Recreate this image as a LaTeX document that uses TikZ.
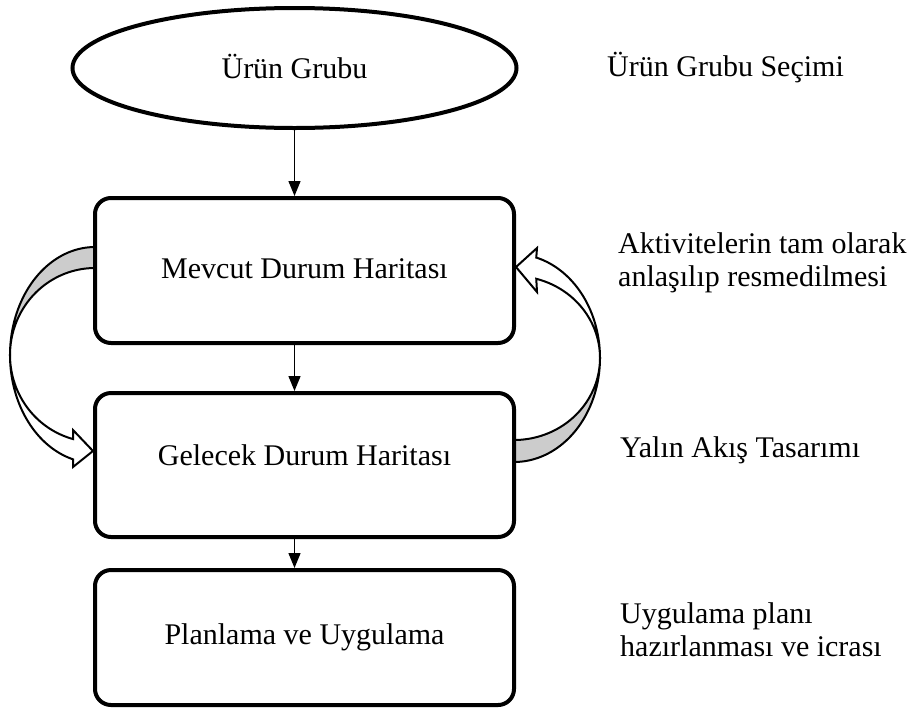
\documentclass[tikz,border=0pt]{standalone}
\usepackage{fontspec}
\setmainfont{Liberation Serif}
\usetikzlibrary{shapes.geometric,arrows.meta}
\begin{document}
\begin{tikzpicture}[x=1pt,y=-1pt,
  stagebox/.style={draw,line width=4pt,rounded corners=16pt,fill=white,
    minimum width=419pt,inner sep=0pt,font=\fontsize{30}{33}\selectfont},
  startell/.style={draw,ellipse,line width=4pt,fill=white,
    minimum width=444pt,minimum height=120pt,inner sep=0pt,
    font=\fontsize{30}{33}\selectfont},
  flow/.style={line width=1.4pt,-{Triangle[length=15pt,width=12pt]}},
  note/.style={anchor=north west,align=left,inner sep=0pt,
    font=\fontsize{30}{33}\selectfont},
  ribbon/.style={draw,line width=2pt,line join=miter,fill=white},
  ribbonback/.style={draw,line width=2pt,fill=gray!40}]
\useasboundingbox (0,0) rectangle (909,713);

% curved block arrow on the left: from the current map down to the future map
\draw[ribbonback] plot[domain=270:180,samples=40] ({95+85*cos(\x)},{355+108*sin(\x)})
  -- plot[domain=180:270,samples=40] ({95+85*cos(\x)},{355+87*sin(\x)}) -- cycle;
\draw[ribbon] plot[domain=180:105,samples=40] ({95+85*cos(\x)},{355+108*sin(\x)})
  -- (73,467) -- (93,451) -- (73,430)
  -- plot[domain=105:180,samples=40] ({95+85*cos(\x)},{355+87*sin(\x)}) -- cycle;

% curved block arrow on the right: from the future map back up to the current map
\draw[ribbonback] plot[domain=90:0,samples=40] ({514+86*cos(\x)},{358+104*sin(\x)})
  -- plot[domain=0:90,samples=40] ({514+86*cos(\x)},{358+82*sin(\x)}) -- cycle;
\draw[ribbon] plot[domain=0:-75,samples=40] ({514+86*cos(\x)},{358+104*sin(\x)})
  -- (537,248) -- (516,267) -- (537,292)
  -- plot[domain=-75:0,samples=40] ({514+86*cos(\x)},{358+82*sin(\x)}) -- cycle;

% main chain
\node[startell] (grp) at (294.5,68) {\raisebox{3pt}{Ürün Grubu}};
\node[stagebox,minimum height=145pt] (cur) at (304.5,270.5) {\raisebox{3pt}{Mevcut Durum Haritası}};
\node[stagebox,minimum height=144pt] (fut) at (304.5,465) {\raisebox{20pt}{Gelecek Durum Haritası}};
\node[stagebox,minimum height=135pt] (plan) at (304.5,637.5) {\raisebox{-12pt}{Planlama ve Uygulama}};

\draw[flow] (grp.south) -- (grp.south |- cur.north);
\draw[flow] (grp.south |- cur.south) -- (grp.south |- fut.north);
\draw[flow] (grp.south |- fut.south) -- (grp.south |- plan.north);

% descriptions on the right
\node[note] (n1) at (607,52) {Ürün Grubu Seçimi};
\node[note] (n2) at (618,232) {Aktivitelerin tam olarak\\anlaşılıp resmedilmesi};
\node[note] (n3) at (620,436) {Yalın Akış Tasarımı};
\node[note] (n4) at (620,602) {Uygulama planı\\hazırlanması ve icrası};
\end{tikzpicture}
\end{document}
